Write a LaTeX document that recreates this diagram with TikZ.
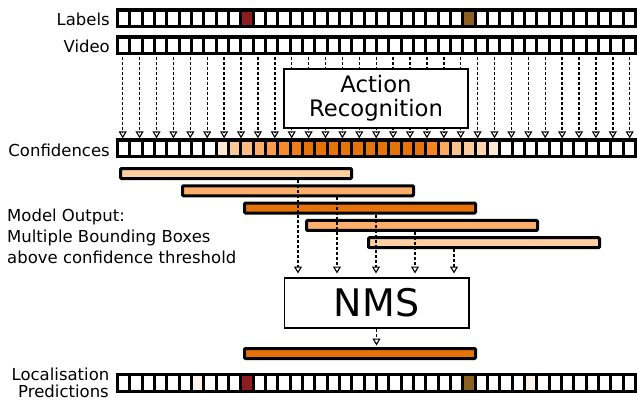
\documentclass[tikz,border=0pt]{standalone}
\usepackage{fontspec}
\setmainfont{DejaVu Sans}
\usetikzlibrary{arrows.meta}
\definecolor{peach}{HTML}{FDD0A2}
\definecolor{lorange}{HTML}{FDAE6B}
\definecolor{dorange}{HTML}{E6730A}
\definecolor{labred}{HTML}{8B1E1E}
\definecolor{labbrown}{HTML}{8C6020}
\definecolor{faint}{HTML}{FDF3EA}
\definecolor{cA}{HTML}{FEE6D4}
\definecolor{cB}{HTML}{FDC997}
\definecolor{cC}{HTML}{FDBB84}
\definecolor{cD}{HTML}{FDAB66}
\definecolor{cE}{HTML}{FD9A4B}
\definecolor{cF}{HTML}{F98A2C}
\definecolor{cG}{HTML}{EF7D1A}
\definecolor{cH}{HTML}{E6730A}
\definecolor{cI}{HTML}{F7861E}
\definecolor{cJ}{HTML}{FDA75F}
\definecolor{cK}{HTML}{FDC18D}
\definecolor{cL}{HTML}{FDCB9C}
\definecolor{cM}{HTML}{FDD5AE}
\definecolor{cN}{HTML}{FEE8D8}
\tikzset{
  cell/.style={draw=black, line width=3.2pt, fill=white, minimum width=12.3333pt,
    minimum height=16.6pt, inner sep=0pt, outer sep=0pt},
  bbox/.style={draw=black, line width=3pt, rounded corners=1pt, minimum height=10pt,
    minimum width=231pt, inner sep=0pt},
  procbox/.style={draw=black, line width=1.8pt, fill=white, minimum width=184.2pt,
    inner sep=0pt, align=center},
  darrow/.style={-{Triangle[open,width=8pt,length=7pt,line width=1.1pt]},
    line width=1.4pt, dash pattern=on 3pt off 2pt},
  lbl/.style={font=\fontsize{16.5}{20}\selectfont, inner sep=0pt},
}
\begin{document}
\begin{tikzpicture}[x=1pt,y=-1pt]
\useasboundingbox (0,0) rectangle (637,400);
% strips
\foreach \i in {0,...,41} {
  \pgfmathsetmacro\cx{117.5+12.3333*(\i+0.5)}
  \node[cell] (lab-\i) at (\cx,18.3) {};
  \node[cell] (vid-\i) at (\cx,45.3) {};
  \node[cell] (conf-\i) at (\cx,148.3) {};
  \node[cell] (loc-\i) at (\cx,383) {};
}
% coloured label cells
\foreach \i/\c in {10/labred, 28/labbrown} {
  \pgfmathsetmacro\cx{117.5+12.3333*(\i+0.5)}
  \node[cell, fill=\c] (labc-\i) at (\cx,18.3) {};
}
\foreach \i/\c in {6/faint, 10/labred, 28/labbrown, 33/faint} {
  \pgfmathsetmacro\cx{117.5+12.3333*(\i+0.5)}
  \node[cell, fill=\c] (locc-\i) at (\cx,383) {};
}
\foreach \i/\c in {8/cA, 9/cB, 10/cC, 11/cD, 12/cE, 13/cF, 14/cG, 15/cH, 16/cH, 17/cH,
  18/cH, 19/cH, 20/cH, 21/cH, 22/cH, 23/cH, 24/cH, 25/cI, 26/cJ, 27/cK, 28/cL, 29/cM, 30/cN} {
  \pgfmathsetmacro\cx{117.5+12.3333*(\i+0.5)}
  \node[cell, fill=\c] (confc-\i) at (\cx,148.3) {};
}
% arrows video -> confidences
\foreach \k in {0,...,30} {
  \pgfmathsetmacro\ax{122.7+16.9*\k}
  \coordinate (va-\k) at (\ax,56.5);
  \coordinate (cf-\k) at (\ax,138.3);
  \draw[darrow] (va-\k) -- (cf-\k);
}
% action recognition
\node[procbox, minimum height=59.2pt, font=\fontsize{22.7}{24}\selectfont] (ar) at (376,98.5)
  {Action\\Recognition};
% text labels
\node[lbl, anchor=base east] (tlab) at (110,25.5) {Labels};
\node[lbl, anchor=base east] (tvid) at (110,52.7) {Video};
\node[lbl, anchor=base east] (tconf) at (110,156) {Confidences};
\node[lbl, anchor=base west] (mo1) at (7,221) {Model Output:};
\node[lbl, anchor=base west] (mo2) at (7,242) {Multiple Bounding Boxes};
\node[lbl, anchor=base west] (mo3) at (7,263) {above confidence threshold};
\node[lbl, anchor=base east] (tloc1) at (109.5,380) {Localisation};
\node[lbl, anchor=base east] (tloc2) at (109,397.5) {Predictions};
% bounding boxes
\foreach \k/\c in {0/peach, 1/lorange, 2/dorange, 3/lorange, 4/peach} {
  \node[bbox, fill=\c] (bb\k) at (236+62*\k, 173.5+17.3*\k) {};
}
% NMS
\node[procbox, minimum height=50.2pt, font=\fontsize{38}{40}\selectfont] (nms) at (376.5,303) {NMS};
\foreach \k in {0,...,4} {
  \coordinate (nx\k) at (298+39*\k, 0);
  \draw[darrow, shorten >=3.5pt] (bb\k.south -| nx\k) -- (nms.north -| nx\k);
}
% output bar
\node[bbox, fill=dorange] (bar) at (360,353.5) {};
\draw[darrow, shorten >=1.5pt] (nms.south) -- (bar.north -| nms.south);
\end{tikzpicture}
\end{document}
